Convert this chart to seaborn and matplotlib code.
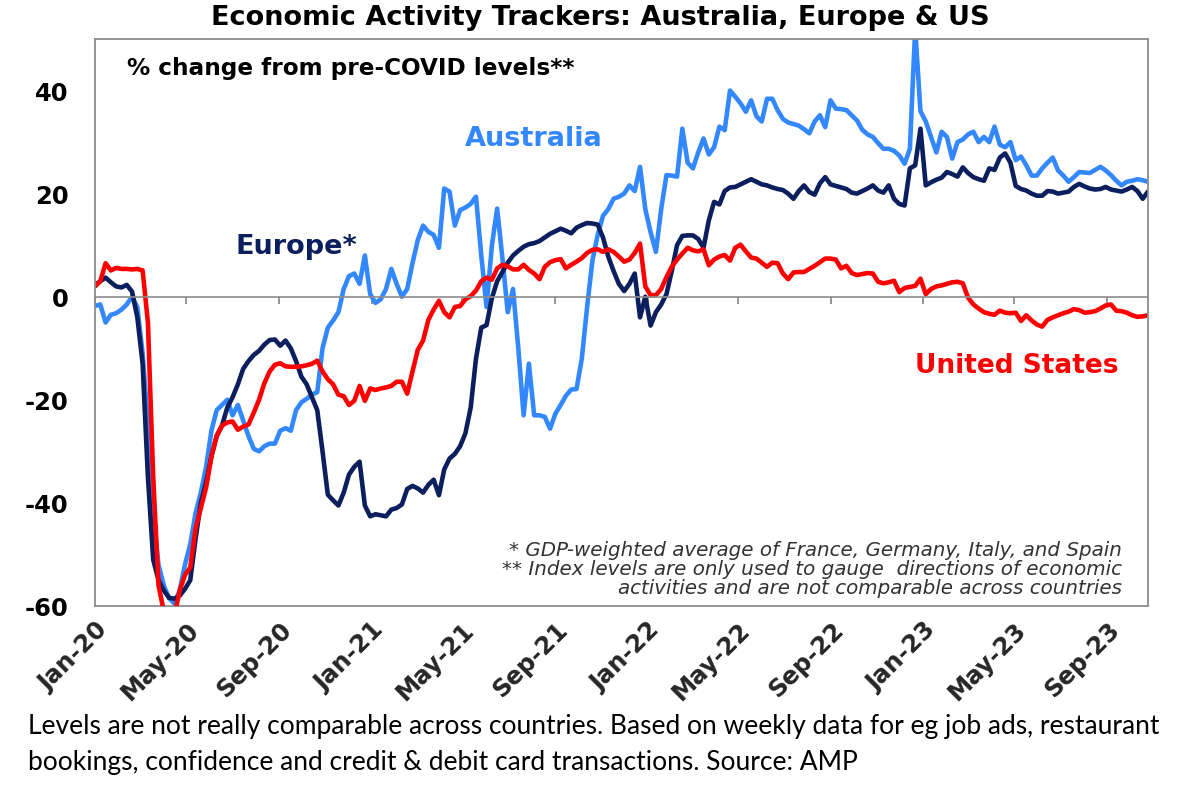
import numpy as np
import pandas as pd
import matplotlib
matplotlib.use("Agg")
import matplotlib.pyplot as plt
import matplotlib.dates as mdates
import seaborn as sns

# ---------------- data (weekly) ----------------
start_date = "2020-01-01"

australia = [
    -1.8, -1.5, -5.0, -3.5, -3.2, -2.5, -1.5, 0.0, -2.0, -11,
    -25, -42, -52, -56, -58.5, -59.5, -57, -52, -48, -42,
    -38, -33, -26, -22, -21, -20, -23, -21, -24, -27,
    -29.5, -30, -29, -28.5, -28.5, -26, -25.5, -26, -22, -20.5,
    -19.8, -19, -18.5, -10, -6, -4.6, -3, 1.5, 4, 4.5,
    2.5, 8, 0.5, -1.2, -0.5, 1.5, 5.4, 2.5, 0, 1.5,
    6.5, 11, 13.8, 12.6, 12.0, 9.5, 21, 20.4, 13.8, 16.8,
    17.3, 18, 19.4, 8, -2, 9.9, 17.1, 7.4, -3, 1.5,
    -10, -23, -13, -23, -23, -23.3, -25.6, -22.7, -21, -19.2,
    -18, -17.9, -12, -2, 7, 12, 15.7, 17, 19, 19.4,
    20, 21.6, 20.5, 25.2, 17, 12.5, 8.7, 17, 23.6, 23.5,
    23.3, 32.6, 26, 24.9, 28, 30.7, 27.6, 29, 33, 32.3,
    40, 38.8, 37.5, 35.9, 38.1, 35, 34, 38.4, 38.4, 36.2,
    34.5, 33.8, 33.5, 33.2, 32.5, 31.7, 34, 35.2, 32.9, 38.1,
    36.5, 36.4, 36.2, 35.2, 34.2, 32.4, 31.5, 31, 29.8, 28.7,
    28.7, 28.3, 27.4, 25.8, 28.7, 52, 36, 34, 31, 28,
    32, 31, 26.8, 30, 30.5, 31.5, 32, 30, 31, 30,
    33, 29.5, 29, 30, 26.5, 27.2, 25.5, 23.5, 23.5, 24.9,
    26, 27, 24.5, 23.5, 22.3, 23.2, 24.2, 24.1, 24, 24.6,
    25.2, 24.5, 23.6, 22.5, 21.6, 22.3, 22.5, 22.8, 22.6, 22.3,
]

europe = [
    2.3, 3.0, 3.7, 2.8, 2.0, 1.8, 2.3, 1.0, -4, -13,
    -35, -51, -55, -57, -58.4, -58.6, -58, -56.7, -55, -47,
    -40, -36, -31, -27, -25, -21.5, -19.5, -17, -14, -12.5,
    -11.3, -10.5, -9.3, -8.4, -8.3, -9.5, -8.5, -10, -12.5, -15.5,
    -17, -19.5, -22, -30, -38.4, -39.5, -40.5, -38, -34.5, -33,
    -32, -40.5, -42.6, -42.2, -42.4, -42.6, -41.3, -41, -40.3, -37.3,
    -36.7, -37.2, -38, -36.5, -35.5, -38.5, -33.5, -31.4, -30.5, -29,
    -26.5, -21.5, -12, -6, -5.5, -0.3, 3, 4.8, 6.6, 8,
    8.9, 9.7, 10.2, 10.4, 10.8, 11.5, 12.2, 12.7, 13.2, 12.8,
    12.3, 13.4, 13.9, 14.3, 14.2, 14, 11.5, 7.8, 5, 2.5,
    1.1, 2.5, 4.5, -4, 0, -5.6, -3, -1.5, 0.5, 5,
    10, 11.8, 11.9, 11.9, 11.2, 9.5, 14.8, 18.4, 17.9, 20.5,
    21.2, 21.3, 21.8, 22.3, 22.8, 22.3, 21.8, 21.6, 21.2, 20.9,
    20.7, 20, 19, 20.5, 21.6, 20.3, 19.8, 22, 23.2, 21.8,
    21.5, 21.2, 20.9, 20.2, 20, 20.5, 21, 21.6, 20.6, 20.2,
    21.6, 19, 18, 17.7, 24.9, 25.5, 32.6, 21.6, 22.2, 22.7,
    23.1, 24.2, 23.8, 23.3, 25.1, 24, 23.2, 22.8, 22.5, 24.9,
    24.6, 27, 27.8, 26, 21.5, 20.9, 20.6, 20, 19.6, 19.6,
    20.5, 20.4, 20, 20.2, 20.4, 21.3, 21.9, 21.4, 21, 20.8,
    20.9, 21.3, 20.8, 20.6, 20.4, 20.8, 21.3, 20.5, 19, 20.4,
]

united_states = [
    2, 3, 6.5, 5.1, 5.6, 5.4, 5.4, 5.3, 5.4, 5.1,
    -5, -35, -56, -61, -62, -62, -57, -54, -52.5, -45,
    -41, -37, -31, -27, -25, -24.4, -24.2, -25.8, -25.2, -24.8,
    -22.5, -20, -16.8, -14.5, -13.2, -12.9, -13.5, -13.6, -13.6, -13.5,
    -13.3, -13, -12.4, -14.5, -16, -17, -19, -19.3, -21, -20.2,
    -17.3, -20.2, -17.8, -18.1, -17.8, -17.6, -17.3, -16.5, -16.5, -18.8,
    -14.5, -10.3, -8.5, -4.5, -2.5, -0.8, -3, -4, -2, -1.8,
    -0.5, 0.1, 1.2, 3, 3.7, 3.3, 5.5, 6.2, 5.9, 5.3,
    5.3, 6.2, 5.2, 4.5, 3.4, 5.8, 6.7, 7.1, 7.3, 5.5,
    6.2, 6.8, 7.5, 8.5, 9.1, 9.2, 8.7, 9.2, 8.7, 7.8,
    6.8, 7.2, 8.5, 10.3, 2, 0.3, 0.3, 1.5, 3.8, 5.8,
    7.2, 8.4, 9.5, 9, 8.8, 9.2, 6.1, 7.2, 7.8, 8.1,
    7, 9.5, 10.1, 8.8, 7.6, 7.4, 6.6, 5.8, 6.6, 6.5,
    4.5, 3.4, 4.7, 4.8, 4.8, 5.4, 6, 6.7, 7.4, 7.4,
    7.2, 5.5, 6, 4.6, 4.2, 4.4, 4.6, 4.5, 2.9, 2.6,
    2.8, 3.1, 0.9, 1.7, 1.9, 2.1, 3.5, 0.5, 1.5, 2,
    2.2, 2.5, 2.8, 2.9, 2.6, -0.2, -1.5, -2.3, -3, -3.3,
    -3.5, -2.7, -3.1, -3.2, -3.1, -4.7, -3.6, -4.6, -5.4, -5.8,
    -4.5, -4, -3.6, -3.2, -2.9, -2.4, -2.6, -3.1, -3, -2.8,
    -2.3, -1.7, -1.5, -2.7, -2.8, -3.1, -3.6, -3.9, -3.8, -3.6,
]

series_names = ["Australia", "Europe*", "United States"]
series_colors = ["#3388FF", "#0B1F5E", "#FF0000"]

tick_dates = ["2020-01-01", "2020-05-01", "2020-09-01", "2021-01-01",
              "2021-05-01", "2021-09-01", "2022-01-01", "2022-05-01",
              "2022-09-01", "2023-01-01", "2023-05-01", "2023-09-01"]
tick_labels = ["Jan-20", "May-20", "Sep-20", "Jan-21", "May-21", "Sep-21",
               "Jan-22", "May-22", "Sep-22", "Jan-23", "May-23", "Sep-23"]
y_ticks = [-60, -40, -20, 0, 20, 40]

# ---------------- build frame ----------------
dates = pd.date_range(start_date, periods=len(australia), freq="7D")
df = pd.DataFrame({"date": dates,
                   "Australia": australia,
                   "Europe*": europe,
                   "United States": united_states})
long = df.melt("date", var_name="series", value_name="value")

sns.set_theme(style="white")
plt.rcParams["font.family"] = ["DejaVu Sans"]

W, H = 1191, 803
fig = plt.figure(figsize=(W / 100, H / 100), dpi=100)
ax = fig.add_axes([95 / W, 1 - 607 / H, (1148 - 95) / W, (607 - 40) / H])

sns.lineplot(data=long, x="date", y="value", hue="series",
             hue_order=series_names, palette=series_colors,
             linewidth=3.3, legend=False, estimator=None, ax=ax)

grey = "#8C8C8C"
ax.set_xlim(dates[0], dates[-1])
ax.set_ylim(-60, 50)
ax.set_xlabel("")
ax.set_ylabel("")

for s in ["top", "left", "right"]:
    ax.spines[s].set_color(grey)
    ax.spines[s].set_linewidth(1.3)
ax.spines["bottom"].set_position(("data", 0))
ax.spines["bottom"].set_color(grey)
ax.spines["bottom"].set_linewidth(1.2)

tick_dt = pd.to_datetime(tick_dates)
ax.set_xticks(tick_dt)
ax.tick_params(axis="x", direction="out", length=5, width=1.3, color=grey,
               labelbottom=False, bottom=True)
ax.set_yticks(y_ticks)
ax.set_yticklabels([str(v) for v in y_ticks], fontweight="bold", fontsize=17.5)
ax.tick_params(axis="y", length=0, pad=19, labelcolor="black")

sec = ax.secondary_xaxis("bottom")
sec.spines["bottom"].set_color(grey)
sec.spines["bottom"].set_linewidth(1.3)
sec.set_xticks(mdates.date2num(tick_dt))
sec.set_xticklabels(tick_labels, rotation=45, ha="right", va="top",
                    rotation_mode="anchor", fontweight="bold", fontsize=17.5)
sec.tick_params(axis="x", length=0, pad=8)

# ---------------- texts ----------------
def fx(px):
    return px / W

def fy(py):
    return 1 - py / H

fig.text(fx(600), fy(18), "Economic Activity Trackers: Australia, Europe & US",
         ha="center", va="center", fontweight="bold", fontsize=19.5, color="black")
fig.text(fx(127), fy(68), "% change from pre-COVID levels**",
         ha="left", va="center", fontweight="bold", fontsize=16.7, color="black")
fig.text(fx(465), fy(139), "Australia", ha="left", va="center",
         fontweight="bold", fontsize=19.5, color=series_colors[0])
fig.text(fx(236), fy(247), "Europe*", ha="left", va="center",
         fontweight="bold", fontsize=19.5, color=series_colors[1])
fig.text(fx(915), fy(366), "United States", ha="left", va="center",
         fontweight="bold", fontsize=19, color=series_colors[2])

notes = ["* GDP-weighted average of France, Germany, Italy, and Spain",
         "** Index levels are only used to gauge  directions of economic",
         "activities and are not comparable across countries"]
for txt, py in zip(notes, [551, 570, 588]):
    fig.text(fx(1122), fy(py), txt, ha="right", va="center",
             fontstyle="italic", fontsize=14.3, color="#333333")

caption = ["Levels are not really comparable across countries. Based on weekly data for eg job ads, restaurant",
           "bookings, confidence and credit & debit card transactions. Source: AMP"]
for txt, py in zip(caption, [727, 763]):
    fig.text(fx(28), fy(py), txt, ha="left", va="center",
             fontfamily=["Lato", "DejaVu Sans"], fontweight="normal",
             fontsize=19, color="black")

fig.savefig("out.png", dpi=100, facecolor="white")
